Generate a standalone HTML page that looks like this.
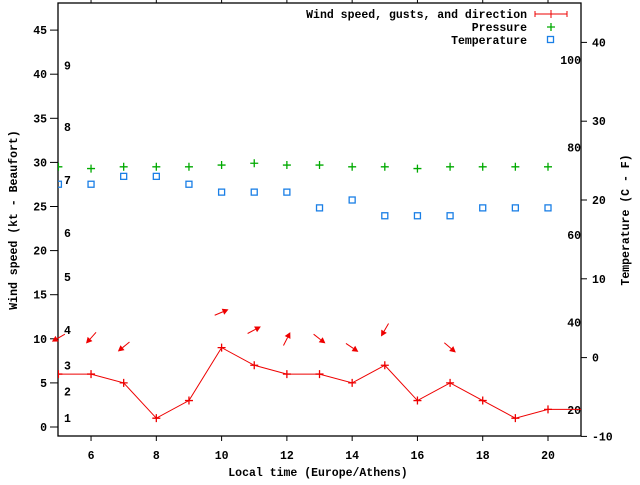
<!DOCTYPE html>
<html><head><meta charset="utf-8"><style>
html,body{margin:0;padding:0;background:#fff}
svg text{font-family:"Liberation Mono","DejaVu Sans Mono",monospace;font-weight:bold;font-size:11.5px;fill:#000}
</style></head><body>
<svg id="chart" width="640" height="480" viewBox="0 0 640 480" xmlns="http://www.w3.org/2000/svg">
<defs><clipPath id="clip"><rect x="58" y="3" width="523" height="433"/></clipPath></defs>
<rect x="58" y="3" width="523" height="433" fill="none" stroke="#000" stroke-width="1.3"/>
<g id="axes"></g>
<g id="marks" clip-path="url(#clip)"></g>
<g id="arrows"></g>
<text x="318" y="476" text-anchor="middle">Local time (Europe/Athens)</text>
<text transform="translate(17,220) rotate(-90)" text-anchor="middle">Wind speed (kt - Beaufort)</text>
<text transform="translate(629,220) rotate(-90)" text-anchor="middle">Temperature (C - F)</text>
<g>
<g><text x="527" y="18" text-anchor="end">Wind speed, gusts, and direction</text>
<path d="M535 14H567M535 11V17M567 11V17M551 10V18" stroke="#e00" stroke-width="1"/></g>
<g><text x="527" y="31" text-anchor="end">Pressure</text>
<path d="M547 27H555M551 23V31" stroke="#0a0" stroke-width="1.3"/></g>
<g><text x="527" y="44" text-anchor="end">Temperature</text>
<rect x="547.5" y="36.5" width="6" height="6" fill="none" stroke="#1a7fe6" stroke-width="1.3"/></g>
</g>
</svg>
<script>
const hours=[5,6,7,8,9,10,11,12,13,14,15,16,17,18,19,20];
const windKt=[6,6,5,1,3,9,7,6,6,5,7,3,5,3,1,2];
const pressure=[29.5,29.3,29.5,29.5,29.5,29.7,29.9,29.7,29.7,29.5,29.5,29.3,29.5,29.5,29.5,29.5];
const tempC=[22,22,23,23,22,21,21,21,19,20,18,18,18,19,19,19];
const arrowHours=[5,6,7,10,11,12,13,14,15,17];
const gustKt=[10.1,10.1,9.1,13,11,10,10,9,11,9];
const dirTo=[240,222,231,67,62,27,128,124,210,130];
const xTicks=[6,8,10,12,14,16,18,20];
const yTicks=[0,5,10,15,20,25,30,35,40,45];
const y2Ticks=[-10,0,10,20,30,40];
const fTicks=[20,40,60,80,100];
const bftNums=[1,2,3,4,5,6,7,8,9];
const bftKt=[1,4,7,11,17,22,28,34,41];

const NS="http://www.w3.org/2000/svg";
const X=h=>58.4+(h-5)*32.64;
const Y=k=>427-k*8.82;
const Y2=c=>357.6-c*7.88;
const axes=document.getElementById('axes'),marks=document.getElementById('marks'),arrows=document.getElementById('arrows');
function mk(t,a,p){const e=document.createElementNS(NS,t);for(const k in a)e.setAttribute(k,a[k]);(p||axes).appendChild(e);return e;}
xTicks.forEach(h=>{
 mk('line',{x1:X(h),x2:X(h),y1:436,y2:441,stroke:'#000'});
 mk('line',{x1:X(h),x2:X(h),y1:3,y2:-2,stroke:'#000'});
 const t=mk('text',{x:X(h),y:459,'text-anchor':'middle'});t.textContent=h;
 
 
});
yTicks.forEach(v=>{
 mk('line',{x1:50,x2:58,y1:Y(v),y2:Y(v),stroke:'#000'});
 const t=mk('text',{x:47,y:Y(v)+4,'text-anchor':'end'});t.textContent=v;
 
 
});
y2Ticks.forEach(v=>{
 mk('line',{x1:581,x2:587,y1:Y2(v),y2:Y2(v),stroke:'#000'});
 const t=mk('text',{x:592,y:Y2(v)+4,'text-anchor':'start'});t.textContent=v;
 
 
});
fTicks.forEach(f=>{
 const t=mk('text',{x:581,y:Y2((f-32)*5/9)+4,'text-anchor':'end'});t.textContent=f;
 
 
});
bftNums.forEach((b,i)=>{
 const t=mk('text',{x:64,y:Y(bftKt[i])+4});t.textContent=b;
 
 
});
let pts=hours.map((h,i)=>X(h)+','+Y(windKt[i]));
pts.unshift(X(4)+','+Y(windKt[0]));pts.push(X(22)+','+Y(windKt[windKt.length-1]));
const wl=mk('polyline',{points:pts.join(' '),fill:'none',stroke:'#e00','stroke-width':1},marks);


hours.forEach((h,i)=>{
 const p=mk('path',{d:`M${X(h)-4} ${Y(windKt[i])}h8M${X(h)} ${Y(windKt[i])-4}v8`,stroke:'#e00','stroke-width':1.3},marks);
 
 
 const g=mk('path',{d:`M${X(h)-4} ${Y(pressure[i])}h8M${X(h)} ${Y(pressure[i])-4}v8`,stroke:'#0a0','stroke-width':1.3},marks);
 
 
 const s=mk('rect',{x:X(h)-3,y:Y2(tempC[i])-3,width:6,height:6,fill:'none',stroke:'#1a7fe6','stroke-width':1.3},marks);
 
 
});
arrowHours.forEach((h,i)=>{
 const a=dirTo[i]*Math.PI/180,dx=Math.sin(a),dy=-Math.cos(a),L=7.5;
 const cx=X(h),cy=Y(gustKt[i]);
 const x1=cx-dx*L,y1=cy-dy*L,x2=cx+dx*L,y2=cy+dy*L;
 const px=-dy,py=dx,hl=6,hw=3.2;
 const bx=x2-dx*hl,by=y2-dy*hl;
 const g=mk('g',{},arrows);
 
 
 mk('line',{x1:x1,y1:y1,x2:bx,y2:by,stroke:'#e00','stroke-width':1},g);
 mk('polygon',{points:`${x2},${y2} ${bx+px*hw},${by+py*hw} ${bx-px*hw},${by-py*hw}`,fill:'#e00'},g);
});
</script>
</body></html>
